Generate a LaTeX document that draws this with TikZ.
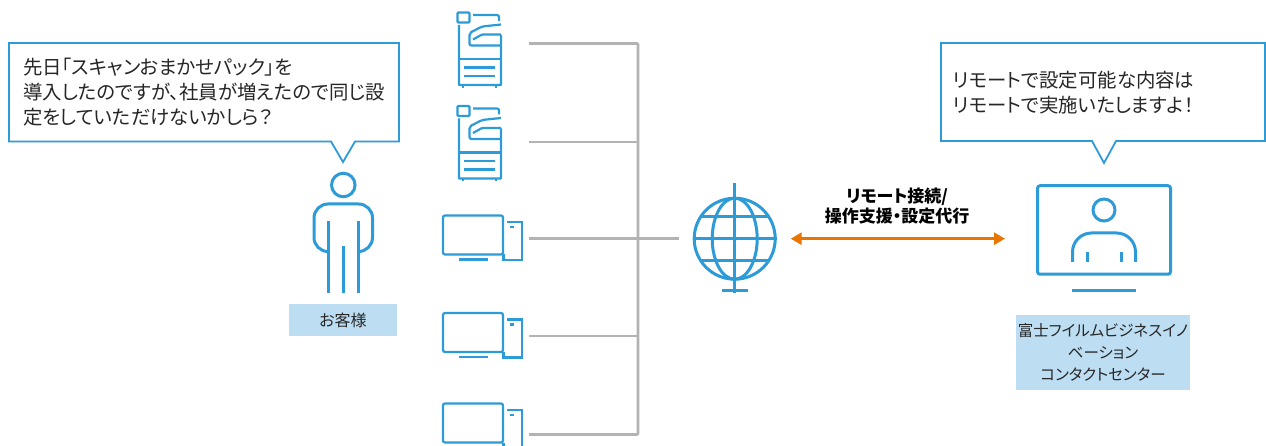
\documentclass[tikz,border=0pt]{standalone}
\usepackage{fontspec}
\setmainfont[RawFeature=+palt]{Noto Sans CJK JP}
\usetikzlibrary{arrows.meta}

\definecolor{iconblue}{HTML}{2E9BD9}
\definecolor{labelblue}{HTML}{BDDEF2}
\definecolor{wiregray}{HTML}{B3B3B3}
\definecolor{linkorange}{HTML}{E87500}
\definecolor{textgray}{HTML}{262626}

\tikzset{
	icon/.style={draw=iconblue,line width=3pt},
	thinicon/.style={draw=iconblue,line width=2.2pt},
	wire/.style={draw=wiregray,line width=2.8pt},
	link/.style={draw=linkorange,line width=3pt,{Triangle[length=11pt,width=12pt]}-{Triangle[length=11pt,width=12pt]}},
	bubble/.style={draw=iconblue,line width=1.8pt,fill=white,line join=miter},
	saytext/.style={text=textgray,align=left,anchor=west,inner sep=0pt,font=\fontsize{19.4}{25}\selectfont},
	tag/.style={fill=labelblue,text=textgray,align=center,inner sep=0pt},
	printer/.pic={
		\draw[thinicon,rounded corners=1pt] (0.5,0.5) rectangle (12.5,10.5);
		\draw[thinicon,rounded corners=2pt] (16,3) -- (42,3) -- (42,9);
		\draw[thinicon,rounded corners=0.5pt] (2,13) -- (2,73) -- (44,73) -- (44,23);
		\draw[thinicon] (2,47) -- (44,47);
		\draw[thinicon] (7,55.5) -- (38,55.5);
		\draw[thinicon] (7,64) -- (38,64);
		\draw[thinicon] (6,73) -- (6,76);
		\draw[thinicon] (39,73) -- (39,76);
		\draw[thinicon,rounded corners=2pt] (44,12.5) -- (25,14.5) -- (12.5,21) -- (12.5,33.5) -- (44,33.5);
		\draw[thinicon,rounded corners=1pt] (44,22.5) -- (25,22.5) -- (16,27.5);
	},
	desktop/.pic={
		\draw[thinicon,rounded corners=2pt] (0,0) rectangle (60,39);
		\draw[thinicon] (16,44) -- (45,44);
		\draw[thinicon] (64,6.5) -- (79,6.5) -- (79,44.5) -- (60.5,44.5) -- (60.5,39);
		\draw[thinicon] (67,11.5) -- (71,11.5);
	},
}

\begin{document}
\begin{tikzpicture}[x=1pt,y=-1pt]

	\clip (0,0) rectangle (1266,446);
	\fill[white] (0,0) rectangle (1266,446);

	\pic at (457,12) {printer};
	\pic at (457,105.5) {printer};
	\pic at (443,215.5) {desktop};
	\pic at (443,313) {desktop};
	\pic at (443,403.5) {desktop};

	\coordinate (printerAport) at (529,43.5);
	\coordinate (printerBport) at (529,142);
	\coordinate (desktopAport) at (529,238.7);
	\coordinate (desktopBport) at (529,336);
	\coordinate (desktopCport) at (529,434.5);
	\coordinate (busTop) at (638,43.5);
	\coordinate (busBottom) at (638,434.5);

	\node[icon,circle,minimum size=81pt,inner sep=0pt] (globe) at (734.7,238.7) {};
	\draw[icon] (globe.center) ellipse [x radius=22.5pt,y radius=40.5pt];
	\draw[icon] (globe.north) -- (globe.south);
	\draw[icon] (globe.west) -- (globe.east);
	\draw[icon] (700.5,216.7) -- (769,216.7);
	\draw[icon] (700.5,260.7) -- (769,260.7);
	\draw[icon] (globe.north) -- ++(0,-13.5);
	\draw[icon] (globe.south) -- ++(0,12);
	\draw[icon] (722,291) -- (747.5,291);

	\node[icon,rounded corners=2.5pt,minimum width=133pt,minimum height=88.5pt,inner sep=0pt] (agent) at (1104,230) {};
	\node[icon,circle,minimum size=22pt,inner sep=0pt] (agentHead) at (1104,210) {};
	\draw[icon,rounded corners=19pt] (1072.5,262) -- (1072.5,233) -- (1135.5,233) -- (1135.5,262);
	\draw[icon] (1087,252) -- (1087,262);
	\draw[icon] (1121,252) -- (1121,262);
	\draw[icon] (1072,291) -- (1136,291);

	\node[icon,circle,minimum size=23.5pt,inner sep=0pt] (customerHead) at (343.3,185) {};
	\draw[icon,rounded corners=14pt] (328,251.5) -- (314,251.5) -- (314,204) -- (372.5,204) -- (372.5,251.5) -- (358,251.5);
	\draw[icon] (328,221) -- (328,293);
	\draw[icon] (358,221) -- (358,293);
	\draw[icon] (343,246) -- (343,293);

	\draw[wire,rounded corners=1pt] (printerAport) -- (busTop) -- (busBottom) -- (desktopCport);
	\draw[wire] (printerBport) -- (printerBport -| busTop);
	\draw[wire] (desktopBport) -- (desktopBport -| busTop);
	\draw[wire,shorten >=14pt] (desktopAport) -- (globe.west);

	\draw[link,shorten <=14pt,shorten >=31pt] (globe.east) -- (globe.east -| agent.west);

	\draw[bubble] (9,43) -- (399,43) -- (399,141.5) -- (355,141.5) -- (343,162) -- (331,141.5) -- (9,141.5) -- cycle;
	\draw[bubble] (941,43) -- (1265,43) -- (1265,141) -- (1116,141) -- (1104,163) -- (1092,141) -- (941,141) -- cycle;

	\node[saytext] (customerSay) at (23,92.5) {先日「スキャンおまかせパック」を\\導入したのですが、社員が増えたので同じ設\\定をしていただけないかしら？};
	\node[saytext] (agentSay) at (953,92.5) {リモートで設定可能な内容は\\リモートで実施いたしますよ！};

	\node[text=black,align=center,inner sep=0pt,font=\fontsize{17}{20}\bfseries\selectfont] (linkLabel) at (897,206) {リモート接続/\\操作支援・設定代行};

	\node[tag,minimum width=108pt,minimum height=32pt,font=\fontsize{16}{20}\selectfont] (customerTag) at (343,320) {お客様};
	\node[tag,minimum width=174pt,minimum height=75pt,font=\fontsize{15.5}{21.7}\selectfont] (agentTag) at (1103,352.5) {富士フイルムビジネスイノ\\ベーション\\コンタクトセンター};

\end{tikzpicture}
\end{document}
